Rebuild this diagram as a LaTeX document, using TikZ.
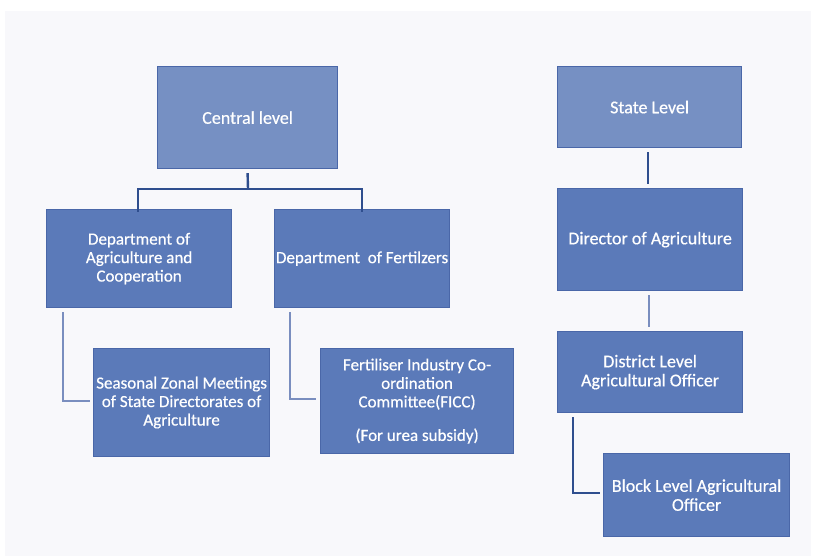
\documentclass[tikz,border=0pt]{standalone}
\usepackage{fontspec}
\setmainfont{Carlito}
\newfontfamily\boxfont[FakeBold=0.5]{Carlito}
\definecolor{bglight}{HTML}{F8F8FB}
\definecolor{boxlight}{HTML}{7690C3}
\definecolor{boxdark}{HTML}{5B7AB9}
\definecolor{boxedge}{HTML}{4A67A8}
\definecolor{linedark}{HTML}{2F4E8E}
\definecolor{linelight}{HTML}{7A8EBF}
\tikzset{
  orgbox/.style={draw=boxedge, line width=1.2pt, fill=boxdark, text=white,
    align=center, inner sep=1pt, anchor=north west,
    font=\boxfont\fontsize{17}{18.5}\selectfont},
  bigtext/.style={font=\boxfont\fontsize{18}{19}\selectfont},
  toplevel/.style={orgbox, bigtext, fill=boxlight},
  darkline/.style={draw=linedark, line width=2.4pt},
  lightline/.style={draw=linelight, line width=2pt},
}
\begin{document}
\begin{tikzpicture}[x=1pt,y=-1pt]
\useasboundingbox (0,0) rectangle (815,559);
\fill[white] (0,0) rectangle (815,559);
\fill[bglight] (5,11) rectangle (811,556);
% boxes
\node[toplevel, minimum width=180pt, minimum height=102pt] (central) at (157,66) {Central level};
\node[toplevel, minimum width=184pt, minimum height=81pt] (state) at (557,66) {State Level};
\node[orgbox, minimum width=185pt, minimum height=98pt] (dac) at (46,209) {Department of\\Agriculture and\\Cooperation};
\node[orgbox, minimum width=175pt, minimum height=98pt] (dof) at (274,209) {Department\ \ of Fertilzers};
\node[orgbox, minimum width=176pt, minimum height=108pt] (szm) at (93,348) {Seasonal Zonal Meetings\\of State Directorates of\\Agriculture};
\node[orgbox, minimum width=193pt, minimum height=105pt] (ficc) at (320,348) {Fertiliser Industry Co-\\ordination\\Committee(FICC)\\[15pt](For urea subsidy)};
\node[orgbox, bigtext, minimum width=185pt, minimum height=102pt] (doa) at (557,188) {Director of Agriculture};
\node[orgbox, bigtext, minimum width=185pt, minimum height=81pt] (dlo) at (557,331) {District Level\\Agricultural Officer};
\node[orgbox, bigtext, minimum width=186pt, minimum height=83pt] (blo) at (603,453) {Block Level Agricultural\\Officer};
% coordinates for connectors
\coordinate (bus) at (248,189);
\coordinate (busL) at (138,189);
\coordinate (busR) at (362,189);
\coordinate (dacC) at (63,401);
\coordinate (dofC) at (290,399);
\coordinate (dloC) at (573,493);
% connectors
\draw[darkline] ([yshift=-4pt]central.south) -- (bus);
\draw[darkline] ([yshift=-3pt]dac.north -| busL) -- (busL) -- (busR) -- ([yshift=-3pt]dof.north -| busR);
\draw[lightline] ([yshift=-4pt]dac.south -| dacC) -- (dacC) -- ([xshift=-3pt]szm.west |- dacC);
\draw[lightline] ([yshift=-4pt]dof.south -| dofC) -- (dofC) -- ([xshift=-4pt]ficc.west |- dofC);
\draw[darkline] ([yshift=-4pt]state.south -| 648,0) -- ([yshift=4pt]doa.north -| 648,0);
\draw[lightline] ([yshift=-4pt]doa.south -| 649,0) -- ([yshift=4pt]dlo.north -| 649,0);
\draw[darkline] ([yshift=-4pt]dlo.south -| dloC) -- (dloC) -- ([xshift=-3pt]blo.west |- dloC);
\end{tikzpicture}
\end{document}
